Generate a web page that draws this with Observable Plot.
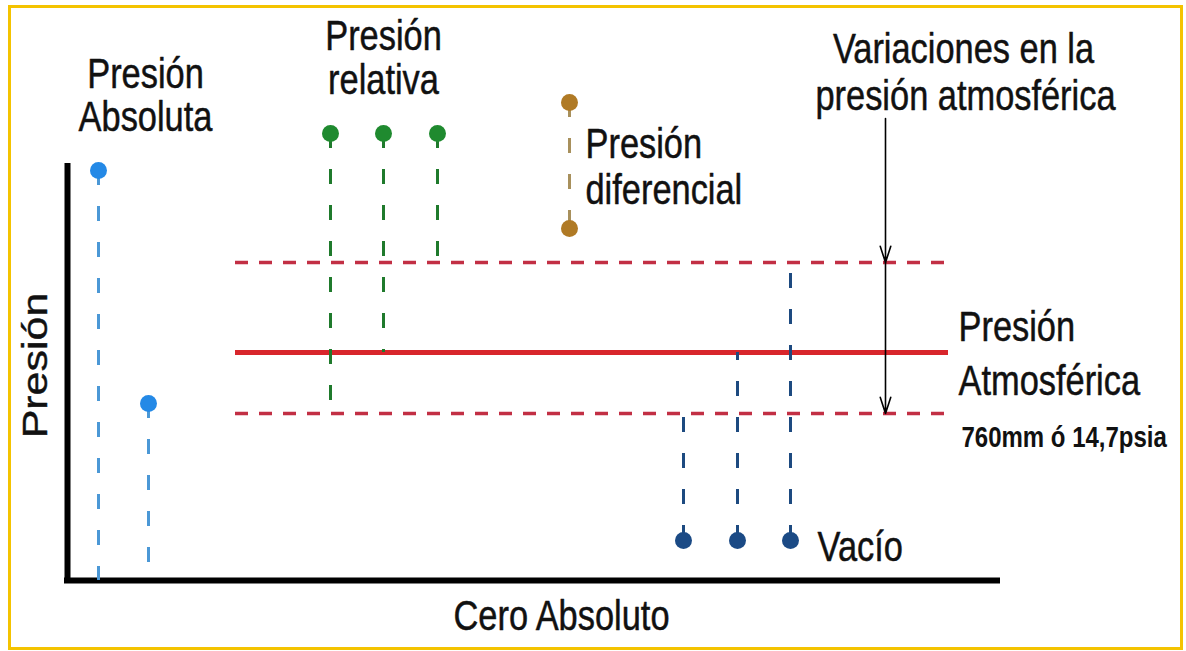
<!DOCTYPE html>
<html><head><meta charset="utf-8">
<script src="https://cdn.jsdelivr.net/npm/d3@7"></script>
<script src="https://cdn.jsdelivr.net/npm/@observablehq/plot@0.6"></script>
<style>html,body{margin:0;padding:0;background:#fff;} #chart svg{display:block}</style>
</head><body><div id="chart"></div>
<script>
// Diagram units: horizontal position, and pressure above absolute zero
const zeroLevel = 0;
const atmLevel = 228;             // Presión atmosférica
const atmVariation = [167, 318];  // variaciones en la presión atmosférica
const levelSpan = [235, 948];
const axisX = 67, axisEnd = 1000, axisTop = 417;

const absX = [98, 148];   const absP = [410, 177];
const relX = [330, 383, 437]; const relP = [447, 447, 447]; const relRef = [167, 228, 318];
const difX = [569]; const difHigh = [478]; const difLow = [352];
const vacX = [683, 737, 790]; const vacP = [40, 40, 40]; const vacRef = [167, 228, 318];
const arrowX = 885; const arrowFrom = [462, 318]; const arrowTo = [318, 167];

const labelsCenter = [
  {t: "Presión", x: 145, y: 506}, {t: "Absoluta", x: 145, y: 463},
  {t: "Presión", x: 383, y: 544}, {t: "relativa", x: 383, y: 500},
  {t: "Variaciones en la", x: 963, y: 531}, {t: "presión atmosférica", x: 965, y: 484},
  {t: "Cero Absoluto", x: 561, y: -36}
];
const labelsStart = [
  {t: "Presión", x: 585, y: 436}, {t: "diferencial", x: 585, y: 390},
  {t: "Presión", x: 958, y: 253}, {t: "Atmosférica", x: 958, y: 199},
  {t: "Vacío", x: 817, y: 33}
];
const noteLabel = [{t: "760mm ó 14,7psia", x: 961, y: 143}];
const axisLabel = [{t: "Presión", x: 35, y: 215}];

const stems = (xs, from, to) => xs.map((x, i) => ({x, y1: from[i], y2: to[i]}));
const pts = (xs, ys) => xs.map((x, i) => ({x, y: ys[i]}));
const font = "Liberation Sans, Arial, Helvetica, sans-serif";
const dash = "15,21";
const ink = {fill: "#111", stroke: "#111", strokeWidth: 0.5};

const chart = Plot.plot({
  width: 1186, height: 651,
  margin: 0,
  x: {domain: [0, 1186], axis: null},
  y: {domain: [-71, 580], axis: null},
  style: {background: "white", fontFamily: font},
  marks: [
    Plot.frame({stroke: "#f4c300", strokeWidth: 3, insetLeft: 9, insetTop: 6, insetRight: 5, insetBottom: 3}),
    // axes
    Plot.ruleX([axisX], {y1: -3, y2: axisTop, stroke: "#000", strokeWidth: 6}),
    Plot.ruleY([zeroLevel], {x1: axisX - 3, x2: axisEnd, stroke: "#000", strokeWidth: 6}),
    // atmospheric pressure levels
    Plot.ruleY(atmVariation, {x1: levelSpan[0], x2: levelSpan[1], stroke: "#c22f44", strokeWidth: 3.5, strokeDasharray: "13,11"}),
    Plot.ruleY([atmLevel], {x1: levelSpan[0], x2: levelSpan[1], stroke: "#d8262c", strokeWidth: 5}),
    // absolute
    Plot.ruleX(stems(absX, absP, absP.map(() => zeroLevel)), {x: "x", y1: "y1", y2: "y2", stroke: "#4b98d6", strokeWidth: 3, strokeDasharray: dash}),
    Plot.dot(pts(absX, absP), {x: "x", y: "y", r: 8.5, fill: "#2489e6"}),
    // relative
    Plot.ruleX(stems(relX, relP, relRef), {x: "x", y1: "y1", y2: "y2", stroke: "#1f7a2c", strokeWidth: 3, strokeDasharray: dash}),
    Plot.dot(pts(relX, relP), {x: "x", y: "y", r: 8.5, fill: "#1f8a2f"}),
    // differential
    Plot.ruleX(stems(difX, difHigh, difLow), {x: "x", y1: "y1", y2: "y2", stroke: "#a8905c", strokeWidth: 3, strokeDasharray: dash}),
    Plot.dot(pts(difX.concat(difX), difHigh.concat(difLow)), {x: "x", y: "y", r: 8.5, fill: "#b07a25"}),
    // vacuum
    Plot.ruleX(stems(vacX, vacP, vacRef), {x: "x", y1: "y1", y2: "y2", stroke: "#1d4a80", strokeWidth: 3, strokeDasharray: dash}),
    Plot.dot(pts(vacX, vacP), {x: "x", y: "y", r: 8.5, fill: "#1b4a85"}),
    // variation arrows
    Plot.arrow(arrowFrom.map((a, i) => ({x: arrowX, a, b: arrowTo[i]})), {x1: "x", x2: "x", y1: "a", y2: "b", stroke: "#000", strokeWidth: 1.6, headLength: 16, headAngle: 36}),
    // labels
    Plot.text(labelsCenter, {x: "x", y: "y", text: "t", fontSize: 43, ...ink, textAnchor: "middle"}),
    Plot.text(labelsStart, {x: "x", y: "y", text: "t", fontSize: 43, ...ink, textAnchor: "start"}),
    Plot.text(noteLabel, {x: "x", y: "y", text: "t", fontSize: 30, fontWeight: "bold", fill: "#111", textAnchor: "start"}),
    Plot.text(axisLabel, {x: "x", y: "y", text: "t", fontSize: 43, ...ink, rotate: -90, textAnchor: "middle"})
  ]
});

// the lettering of the original is horizontally condensed
chart.querySelectorAll("text").forEach(t => {
  const tr = t.getAttribute("transform");
  if (tr && /^translate\(/.test(tr)) {
    t.setAttribute("transform", tr.replace(/^(translate\([^)]*\))/, "$1 scale(0.8,1)"));
  } else {
    const x = +t.getAttribute("x") || 0, y = +t.getAttribute("y") || 0;
    t.setAttribute("x", 0); t.setAttribute("y", 0);
    t.setAttribute("transform", `translate(${x},${y}) scale(0.8,1)` + (tr ? " " + tr : ""));
  }
});
document.getElementById("chart").appendChild(chart);
</script>
</body></html>
